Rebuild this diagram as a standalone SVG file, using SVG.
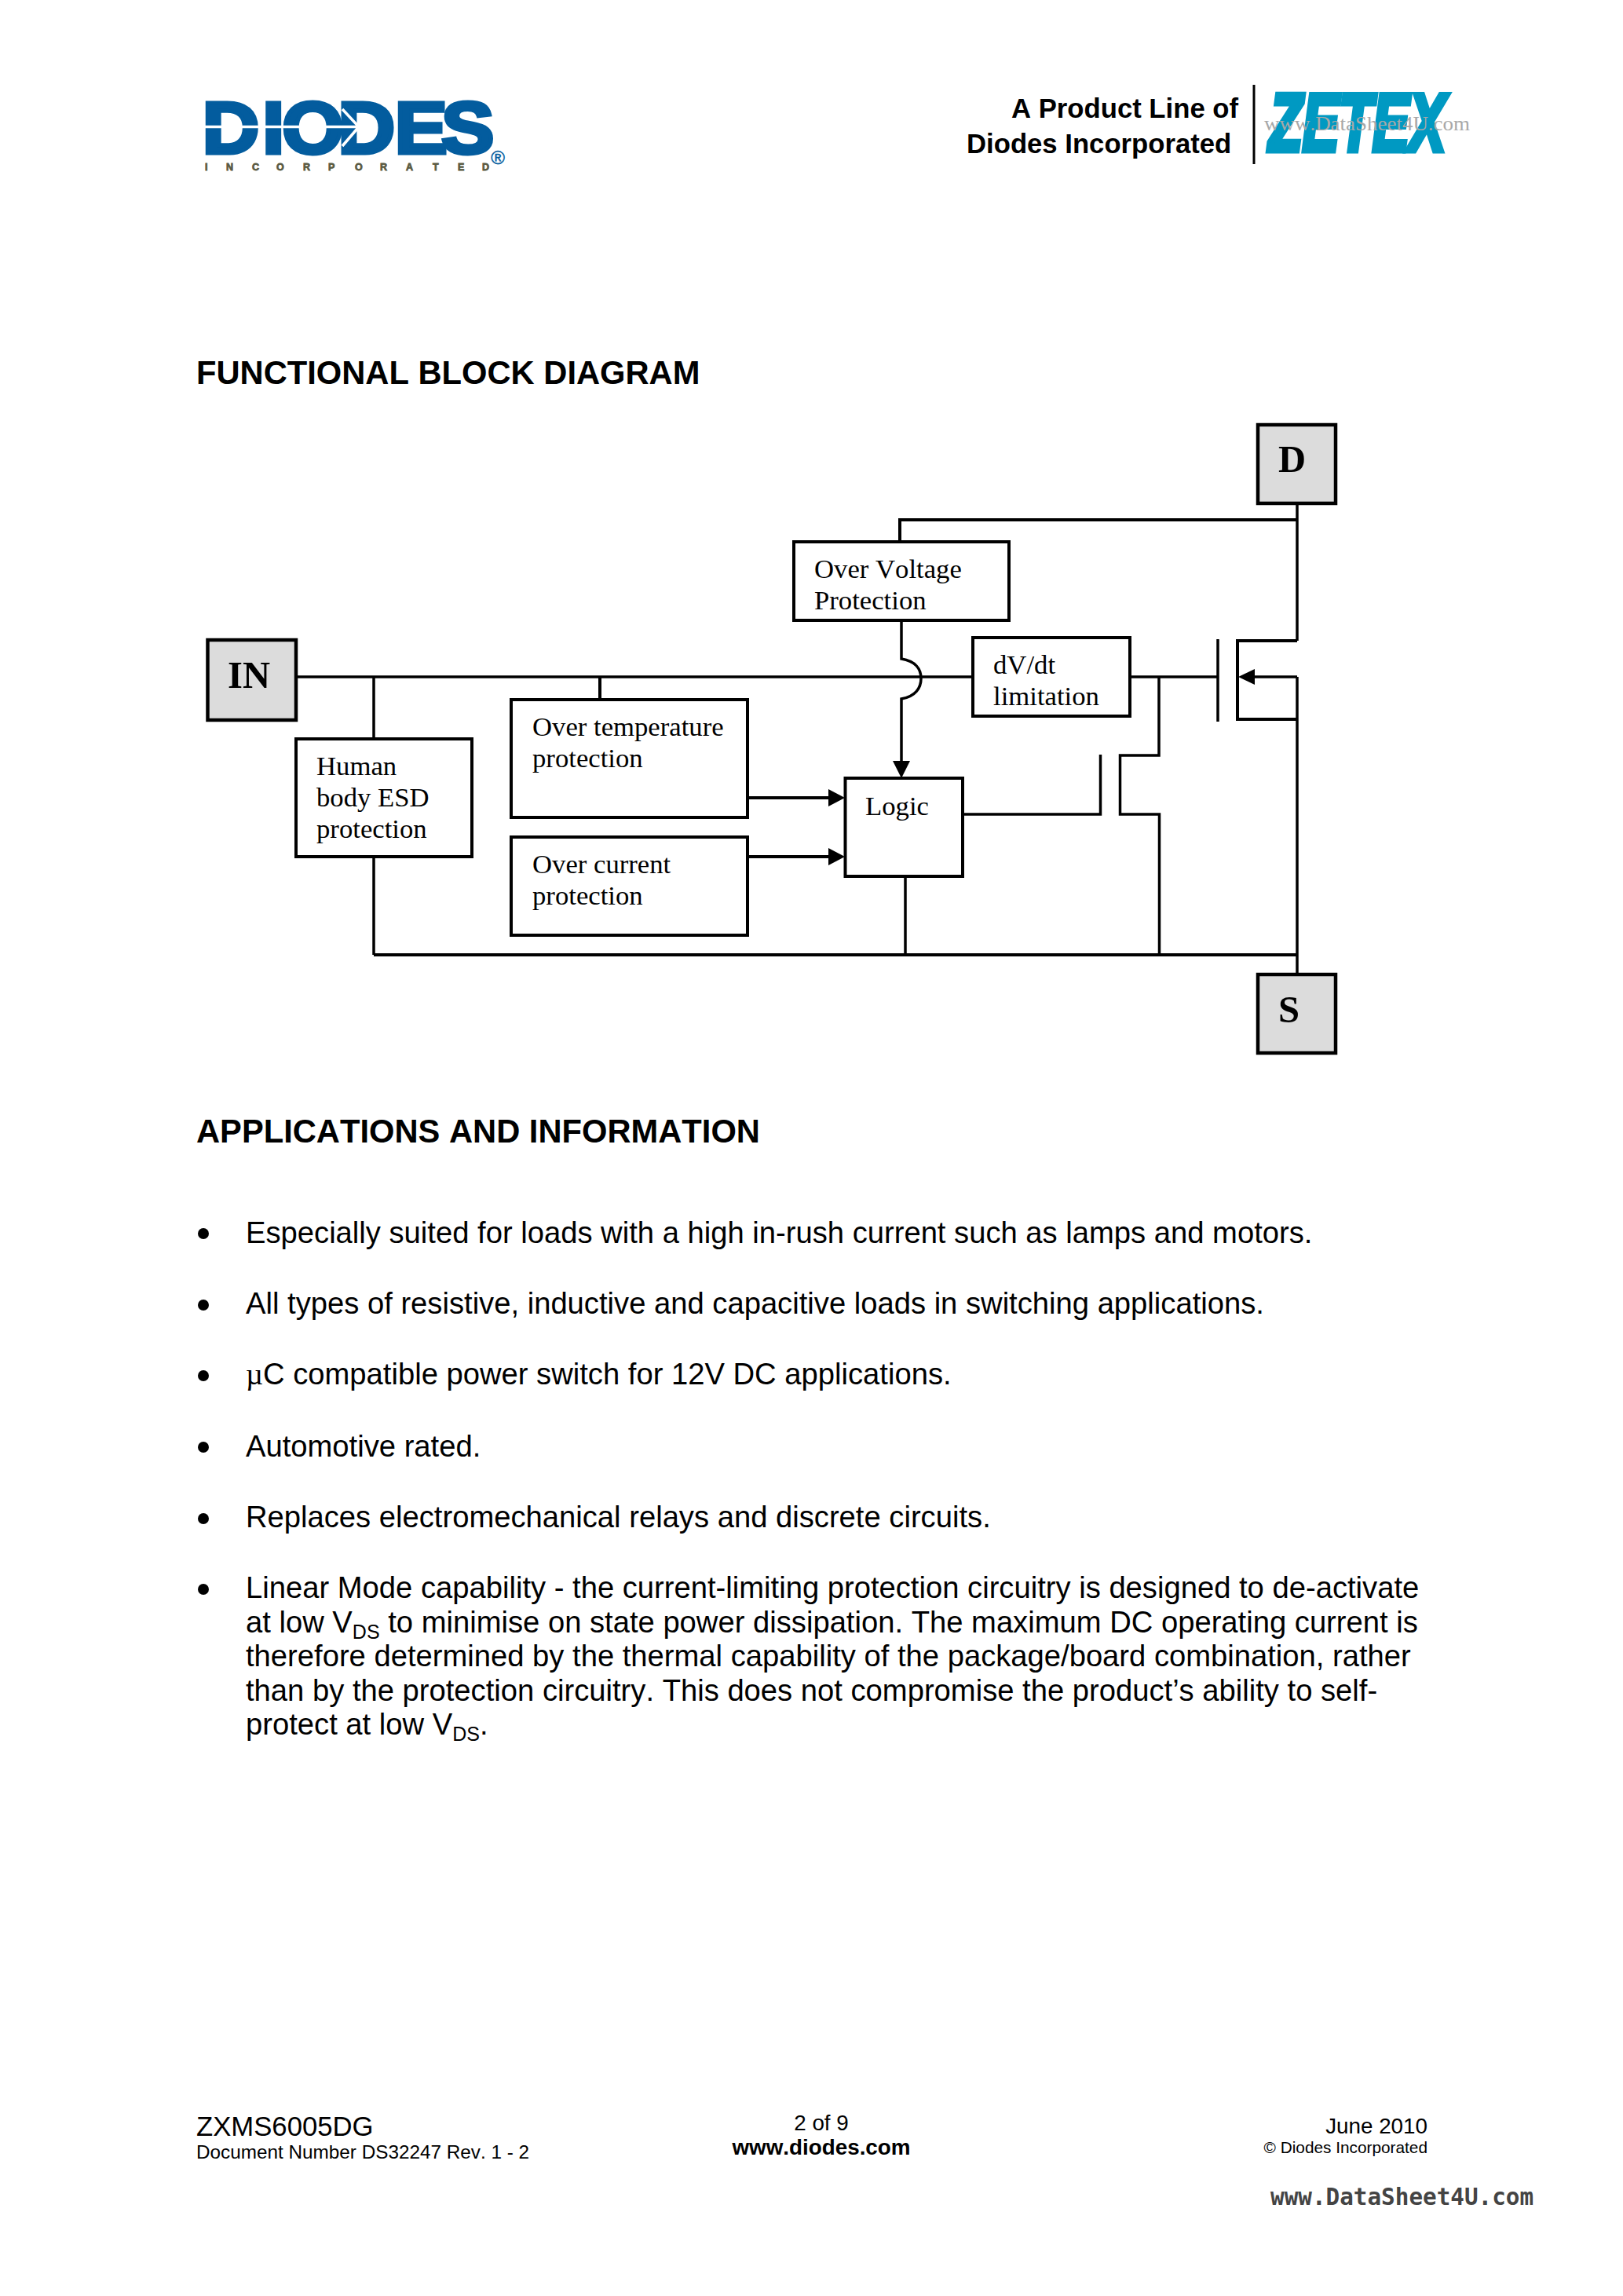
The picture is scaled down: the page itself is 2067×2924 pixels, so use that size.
<svg xmlns="http://www.w3.org/2000/svg" width="2067" height="2924" viewBox="0 0 2067 2924">
<style>
text{font-kerning:none}
.sans{font-family:"Liberation Sans",Arial,sans-serif;fill:#000}
.serif{font-family:"Liberation Serif","Times New Roman",serif;fill:#000}
.h{font-size:41.7px;font-weight:700}
.b{font-size:38.2px}
.sub{font-size:25px}
.lbl{font-size:34.7px}
.pin{font-size:48.6px;font-weight:700}
.box{fill:#fff;stroke:#000;stroke-width:4}
.pinbox{fill:#dcdcdc;stroke:#000;stroke-width:4.5}
.w{fill:none;stroke:#000;stroke-width:3.5}
.wt{fill:none;stroke:#000;stroke-width:4}
.ah{fill:#000;stroke:none}
</style>
<rect width="2067" height="2924" fill="#fff"/>
<g id="logo-diodes">
<text transform="translate(262,195) scale(1.08,1)" x="-4 67 90 156 223 278" y="0" class="sans" font-size="93" font-weight="700" style="fill:#035c9e;stroke:#035c9e;stroke-width:5">DIODES</text>
<path d="M261 161.500H455M436 139L457 161.500L436 186" fill="none" stroke="#fff" stroke-width="3.500"/>
<text x="261 288 321 352 386 418 452 484 517 551 583 614" y="217" class="sans" font-size="12.500" font-weight="700" style="fill:#5a5a42;stroke:#5a5a42;stroke-width:.8">INCORPORATED</text>
<text x="634" y="209" text-anchor="middle" class="sans" font-size="24" style="fill:#035c9e;stroke:#035c9e;stroke-width:.4">®</text>
</g>
<g id="header-right">
<text x="1288" y="150" class="sans lbl" font-weight="700">A Product Line of</text>
<text x="1231" y="195" class="sans lbl" font-weight="700">Diodes Incorporated</text>
<line x1="1597" y1="108" x2="1597" y2="209" stroke="#000" stroke-width="3"/>
<text transform="translate(1616,192) scale(.672,1)" class="sans" font-size="104" font-weight="700" font-style="italic" style="fill:#0099c2;stroke:#0099c2;stroke-width:7">ZETEX</text>
<text x="1610" y="166" class="serif" font-size="26" textLength="262" lengthAdjust="spacingAndGlyphs" style="fill:#a8a8a8">www.DataSheet4U.com</text>
</g>
<text x="250" y="489" class="sans h">FUNCTIONAL BLOCK DIAGRAM</text>
<g id="connectors">
<path class="w" d="M377 862H1239M476 862V941M476 1091V1216"/>
<path class="wt" d="M764 862V891M476 1216H1652"/>
<path class="w" d="M1439 862H1551M1476 862V962H1426.500V1037H1476.500V1216M1226 1037H1401.500V961"/>
<path class="w" d="M1551 814V919"/>
<path class="wt" d="M1146 690V662H1652"/>
<path class="w" d="M1652 641V816M1652 862V1241M1598 862H1652"/>
<path class="wt" d="M1652 816H1576V916H1652"/>
<path class="w" d="M1148 790V839C1166 842 1173 852 1173 864C1173 876 1166 887 1148 890V970"/>
<path class="wt" d="M952 1016H1056M952 1091H1056"/>
<path class="w" d="M1153 1116V1216"/>
<polygon class="ah" points="1137,969 1159,969 1148,991"/>
<polygon class="ah" points="1055,1005 1076,1016 1055,1027"/>
<polygon class="ah" points="1055,1080 1076,1091 1055,1102"/>
<polygon class="ah" points="1577,862 1598,852 1598,872"/>
</g>
<g id="node-d"><rect class="pinbox" x="1602" y="541" width="99" height="100"/><text x="1628" y="601" class="serif pin">D</text></g>
<g id="node-in"><rect class="pinbox" x="264.500" y="815" width="112.500" height="102"/><text x="290" y="876" class="serif pin">IN</text></g>
<g id="node-s"><rect class="pinbox" x="1602" y="1241" width="99" height="100"/><text x="1628" y="1302" class="serif pin">S</text></g>
<g id="node-ov"><rect class="box" x="1011" y="690" width="274" height="100"/><text class="serif lbl"><tspan x="1037" y="736">Over Voltage</tspan><tspan x="1037" y="776">Protection</tspan></text></g>
<g id="node-dvdt"><rect class="box" x="1239" y="812" width="200" height="100"/><text class="serif lbl"><tspan x="1265" y="858">dV/dt</tspan><tspan x="1265" y="898">limitation</tspan></text></g>
<g id="node-esd"><rect class="box" x="377" y="941" width="224" height="150"/><text class="serif lbl"><tspan x="403" y="987">Human</tspan><tspan x="403" y="1027">body ESD</tspan><tspan x="403" y="1067">protection</tspan></text></g>
<g id="node-ot"><rect class="box" x="651" y="891" width="301" height="150"/><text class="serif lbl"><tspan x="678" y="937">Over temperature</tspan><tspan x="678" y="977">protection</tspan></text></g>
<g id="node-oc"><rect class="box" x="651" y="1066" width="301" height="125"/><text class="serif lbl"><tspan x="678" y="1112">Over current</tspan><tspan x="678" y="1152">protection</tspan></text></g>
<g id="node-logic"><rect class="box" x="1076.500" y="991" width="149.500" height="125"/><text x="1102" y="1038" class="serif lbl">Logic</text></g>
<text x="250" y="1455" class="sans h">APPLICATIONS AND INFORMATION</text>
<g id="bullets" class="sans b">
<circle cx="259" cy="1571" r="7"/><text x="313" y="1583">Especially suited for loads with a high in-rush current such as lamps and motors.</text>
<circle cx="259" cy="1662" r="7"/><text x="313" y="1673">All types of resistive, inductive and capacitive loads in switching applications.</text>
<circle cx="259" cy="1752" r="7"/><text x="313" y="1763"><tspan class="serif">µ</tspan>C compatible power switch for 12V DC applications.</text>
<circle cx="259" cy="1843" r="7"/><text x="313" y="1855">Automotive rated.</text>
<circle cx="259" cy="1934" r="7"/><text x="313" y="1945">Replaces electromechanical relays and discrete circuits.</text>
<circle cx="259" cy="2024" r="7"/>
<text x="313" y="2035">Linear Mode capability - the current-limiting protection circuitry is designed to de-activate</text>
<text x="313" y="2079">at low V<tspan class="sub" dy="8">DS</tspan><tspan dy="-8"> to minimise on state power dissipation. The maximum DC operating current is</tspan></text>
<text x="313" y="2122">therefore determined by the thermal capability of the package/board combination, rather</text>
<text x="313" y="2166">than by the protection circuitry. This does not compromise the product’s ability to self-</text>
<text x="313" y="2209">protect at low V<tspan class="sub" dy="8">DS</tspan><tspan dy="-8">.</tspan></text>
</g>
<g id="footer" class="sans">
<text x="250" y="2720" font-size="34.700">ZXMS6005DG</text>
<text x="250" y="2749" font-size="24.300">Document Number DS32247 Rev. 1 - 2</text>
<text x="1046" y="2713" font-size="27.800" text-anchor="middle">2 of 9</text>
<text x="1046" y="2744" font-size="27.800" font-weight="700" text-anchor="middle">www.diodes.com</text>
<text x="1818" y="2717" font-size="27.800" text-anchor="end">June 2010</text>
<text x="1818" y="2742" font-size="20.800" text-anchor="end">© Diodes Incorporated</text>
<text x="1618" y="2808" style="font-family:'DejaVu Sans Mono','Liberation Mono',monospace;fill:#444" font-size="29.300" font-weight="700">www.DataSheet4U.com</text>
</g>
</svg>
